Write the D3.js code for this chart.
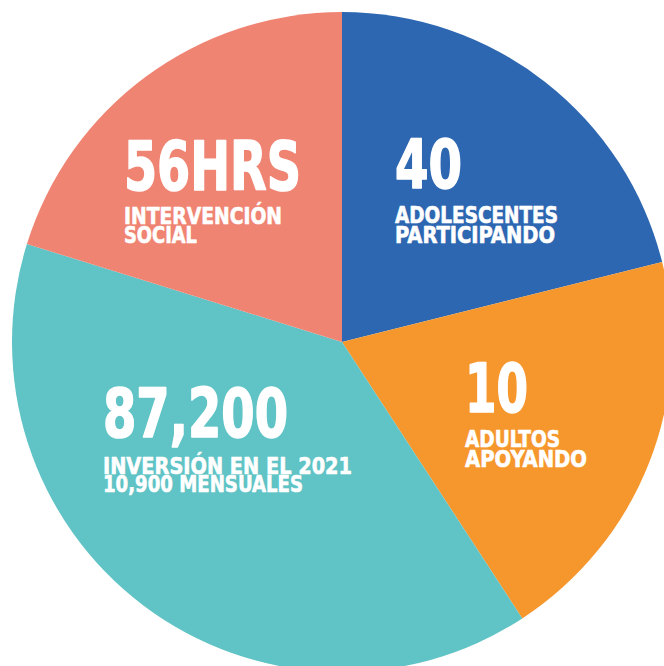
<!DOCTYPE html>
<html>
<head>
<meta charset="utf-8">
<script src="https://cdn.jsdelivr.net/npm/d3@7"></script>
<style>
  html, body { margin: 0; padding: 0; background: #ffffff; }
  svg { display: block; }
  text { font-family: "DejaVu Sans Condensed", "DejaVu Sans", sans-serif; font-weight: bold; fill: #ffffff; stroke: #ffffff; stroke-linejoin: round; }
</style>
</head>
<body>
<svg id="chart" width="664" height="666"></svg>
<script>
// ---- data ----
const categories = ["Adolescentes participando", "Adultos apoyando", "Inversión en el 2021", "Intervención social"];
const shares = [21.1, 19.7, 39.0, 20.2];
const bigLabels = ["40", "10", "87,200", "56HRS"];
const subLine1 = ["ADOLESCENTES", "ADULTOS", "INVERSIÓN EN EL 2021", "INTERVENCIÓN"];
const subLine2 = ["PARTICIPANDO", "APOYANDO", "10,900 MENSUALES", "SOCIAL"];

// ---- styles / layout ----
const colors = ["#2E67B1", "#F6972E", "#60C3C5", "#F08473"];
const cx = 342, cy = 342, radius = 330;
// label layout: left x, baselines & widths (relative to chart center)
const labelLayout = [
  { x: 53,   b0: -154, b1: -119, b2: -99, w0: 67,  w1: 163, w2: 160 },
  { x: 123,  b0: 70,   b1: 105,  b2: 125, w0: 63,  w1: 95,  w2: 122 },
  { x: -239, b0: 95,   b1: 132,  b2: 150, w0: 185, w1: 249, w2: 200 },
  { x: -218, b0: -152, b1: -118, b2: -99, w0: 177, w1: 158, w2: 73 }
];

const svg = d3.select("#chart");
const g = svg.append("g").attr("transform", `translate(${cx},${cy})`);

const pie = d3.pie().sort(null).value(d => d).startAngle(0).endAngle(2 * Math.PI);
const arc = d3.arc().innerRadius(0).outerRadius(radius);
const arcs = pie(shares);

g.selectAll("path.slice")
  .data(arcs)
  .join("path")
  .attr("class", "slice")
  .attr("d", arc)
  .attr("fill", (d, i) => colors[i]);

const labels = g.selectAll("text.label")
  .data(arcs)
  .join("text")
  .attr("class", "label");

labels.append("tspan")
  .attr("x", (d, i) => labelLayout[i].x)
  .attr("y", (d, i) => labelLayout[i].b0)
  .attr("font-size", 68)
  .attr("stroke-width", 1.6)
  .attr("textLength", (d, i) => labelLayout[i].w0)
  .attr("lengthAdjust", "spacingAndGlyphs")
  .text((d, i) => bigLabels[i]);

labels.append("tspan")
  .attr("x", (d, i) => labelLayout[i].x)
  .attr("y", (d, i) => labelLayout[i].b1)
  .attr("font-size", 23)
  .attr("stroke-width", 0.6)
  .attr("textLength", (d, i) => labelLayout[i].w1)
  .attr("lengthAdjust", "spacingAndGlyphs")
  .text((d, i) => subLine1[i]);

labels.append("tspan")
  .attr("x", (d, i) => labelLayout[i].x)
  .attr("y", (d, i) => labelLayout[i].b2)
  .attr("font-size", 23)
  .attr("stroke-width", 0.6)
  .attr("textLength", (d, i) => labelLayout[i].w2)
  .attr("lengthAdjust", "spacingAndGlyphs")
  .text((d, i) => subLine2[i]);
</script>
</body>
</html>
